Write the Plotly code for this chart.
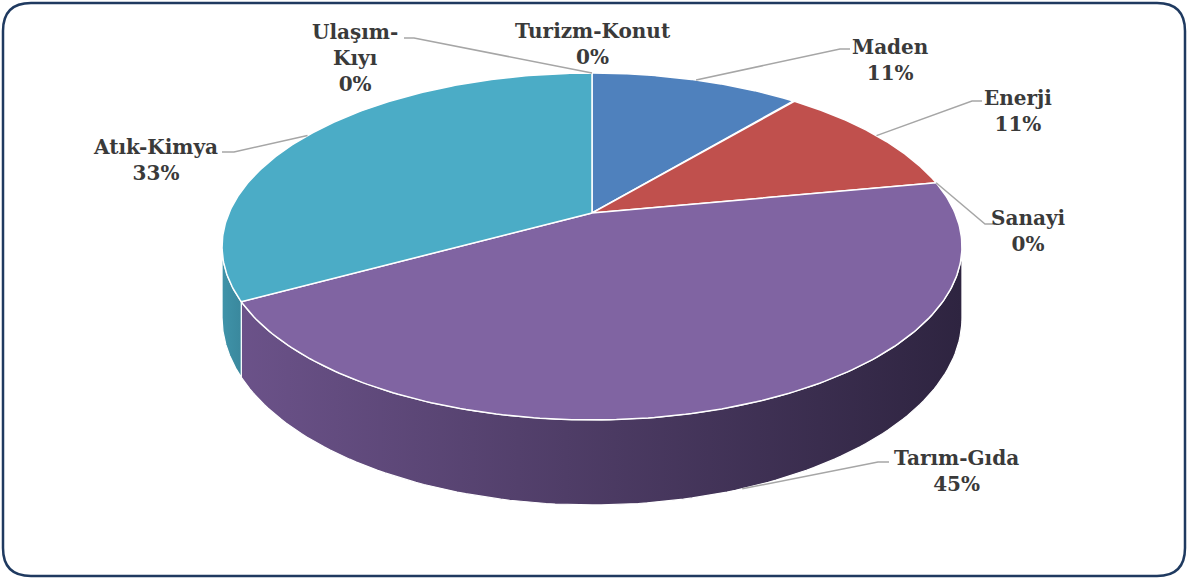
import numpy as np
import plotly.graph_objects as go

# ---------------- data ----------------
categories = ["Maden", "Enerji", "Sanayi", "Tarım-Gıda", "Atık-Kimya", "Ulaşım-Kıyı", "Turizm-Konut"]
values = [11, 11, 0, 45, 33, 0, 0]

# ---------------- styles ----------------
top_colors = ["#4F81BD", "#C0504D", "#9BBB59", "#8064A2", "#4BACC6", "#F79646", "#2C4D75"]
side_scales = {
    "Tarım-Gıda": [[0, "#6B5289"], [0.45, "#4F3D67"], [1, "#2E2440"]],
    "Atık-Kimya": [[0, "#3F93A9"], [1, "#3A889D"]],
}
label_text = {"Ulaşım-Kıyı": "Ulaşım-<br>Kıyı"}
label_pos = {
    "Maden": (890, 60), "Enerji": (1018, 111), "Sanayi": (1028, 231),
    "Tarım-Gıda": (956, 471), "Atık-Kimya": (155, 160),
    "Ulaşım-Kıyı": (355, 58), "Turizm-Konut": (593, 44),
}
leader_outer = {
    "Maden": [(840, 49), (850, 49)],
    "Enerji": [(972, 101), (982, 101)],
    "Sanayi": [(985, 224), (995, 224)],
    "Tarım-Gıda": [(878, 462), (889, 462)],
    "Atık-Kimya": [(234, 152), (222, 152)],
    "Ulaşım-Kıyı": [(414, 38), (404, 38)],
}
# projection of the 3D disc (screen pixels)
CX, CY, A, B, K, H = 592, 213, 167, 363, 0.193, 68.6
W, HGT = 1188, 578


def proj(phi_deg, depth=0.0):
    p = np.radians(phi_deg)
    X, Z = np.sin(p), np.cos(p)
    den = 1 + K * Z
    return CX + B * X / den, CY - A * Z / den + depth * H / den


total = sum(values)
bounds = np.concatenate([[0], np.cumsum(values)]) / total * 360.0
sil_r = 90 + np.degrees(np.arcsin(K))
sil_l = 270 - np.degrees(np.arcsin(K))

fig = go.Figure()

# side walls
for i, cat in enumerate(categories):
    a, b = max(bounds[i], sil_r), min(bounds[i + 1], sil_l)
    if values[i] == 0 or b <= a:
        continue
    ph = np.linspace(a, b, 120)
    xt, yt = proj(ph)
    xb, yb = proj(ph[::-1], 1.0)
    xs = np.concatenate([xt, xb, xt[:1]])
    ys = np.concatenate([yt, yb, yt[:1]])
    fig.add_trace(go.Scatter(
        x=xs, y=ys, mode="lines", fill="toself",
        fillgradient=dict(type="horizontal", colorscale=side_scales[cat],
                          start=float(xs.min()), stop=float(xs.max())),
        line=dict(color="white", width=1.2), hoverinfo="skip", showlegend=False))

# top faces
for i, cat in enumerate(categories):
    if values[i] == 0:
        continue
    ph = np.linspace(bounds[i], bounds[i + 1], 200)
    xt, yt = proj(ph)
    xs = np.concatenate([[CX], xt, [CX]])
    ys = np.concatenate([[CY], yt, [CY]])
    fig.add_trace(go.Scatter(
        x=xs, y=ys, mode="lines", fill="toself", fillcolor=top_colors[i],
        line=dict(color="white", width=1.5), name=cat,
        hovertemplate=f"{cat}: {values[i]}%<extra></extra>", showlegend=False))

# labels and leader lines
for i, cat in enumerate(categories):
    pct = round(values[i] / total * 100)
    mid = (bounds[i] + bounds[i + 1]) / 2
    if cat == "Tarım-Gıda":
        ax, ay = proj(mid, 1.0)
    else:
        ax, ay = proj(mid)
    if cat in leader_outer:
        pts = [(ax, ay)] + leader_outer[cat]
        fig.add_trace(go.Scatter(
            x=[p[0] for p in pts], y=[p[1] for p in pts], mode="lines",
            line=dict(color="#A6A6A6", width=1.5), hoverinfo="skip", showlegend=False))
    lx, ly = label_pos[cat]
    txt = label_text.get(cat, cat)
    fig.add_annotation(
        x=lx, y=ly, xref="x", yref="y", showarrow=False,
        text=f"<b>{txt}<br>{pct}%</b>", align="center",
        xanchor="center", yanchor="middle",
        font=dict(family="DejaVu Serif", size=20, color="#3A3A3A"))

# rounded frame
r = 28
x0, y0, x1, y1 = 3, 3, 1185, 576
path = (f"M {x0+r},{y0} L {x1-r},{y0} Q {x1},{y0} {x1},{y0+r} L {x1},{y1-r} "
        f"Q {x1},{y1} {x1-r},{y1} L {x0+r},{y1} Q {x0},{y1} {x0},{y1-r} "
        f"L {x0},{y0+r} Q {x0},{y0} {x0+r},{y0} Z")
fig.add_shape(type="path", path=path, xref="x", yref="y",
              line=dict(color="#1F3A60", width=2.5), layer="below")

fig.update_layout(
    width=W, height=HGT, margin=dict(l=0, r=0, t=0, b=0),
    paper_bgcolor="white", plot_bgcolor="white",
    xaxis=dict(range=[0, W], visible=False, fixedrange=True),
    yaxis=dict(range=[HGT, 0], visible=False, fixedrange=True),
    showlegend=False,
)
fig.write_html(
    "out.html",
    config={"displayModeBar": False},
    post_script="document.body.style.margin='0';document.body.style.padding='0';"
                "document.body.style.overflow='hidden';",
)
